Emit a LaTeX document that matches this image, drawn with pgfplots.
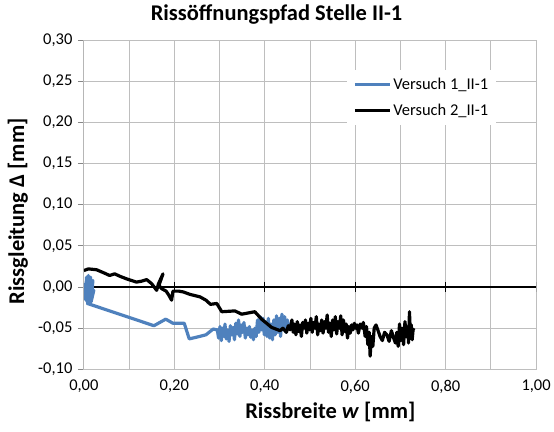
\documentclass[border=0pt]{standalone}
\usepackage{pgfplots}
\pgfplotsset{compat=1.18}
\usepackage{fontspec}
\setmainfont{Carlito}
\definecolor{blueS}{RGB}{79,129,189}
\definecolor{gridc}{RGB}{190,190,190}
\definecolor{axc}{RGB}{134,134,134}
\begin{document}
\begin{tikzpicture}
\begin{axis}[
  scale only axis, width=453pt, height=330pt,
  xmin=0, xmax=1, ymin=-0.1, ymax=0.3,
  xtick={0,0.2,0.4,0.6,0.8,1.0},
  minor xtick={0.1,0.3,0.5,0.7,0.9},
  ytick={-0.1,-0.05,0,0.05,0.1,0.15,0.2,0.25,0.3},
  grid=both,
  major grid style={gridc, line width=0.8pt},
  minor grid style={gridc, line width=0.8pt},
  axis line style={gridc, line width=0.8pt},
  xtick style={draw=none},
  minor tick length=0pt,
  ytick style={axc, line width=0.8pt},
  tick align=outside, major tick length=6pt,
  ytick pos=left,
  /pgf/number format/.cd, assume math mode=true, fixed, fixed zerofill, precision=2, use comma,
  /pgfplots/.cd,
  ticklabel style={font=\fontsize{16.5}{18}\selectfont},
  yticklabel style={xshift=-2pt},
  xticklabel style={yshift=-1pt},
  title={\textbf{Rissöffnungspfad Stelle II-1}},
  title style={font=\fontsize{22.5}{24}\selectfont, at={(axis description cs:0.426,1.06)}, anchor=center},
  xlabel={\textbf{Rissbreite \textit{w} [mm]}},
  xlabel style={font=\fontsize{22.5}{24}\selectfont, at={(axis description cs:0.545,-0.13)}, anchor=center},
  ylabel={\textbf{Rissgleitung Δ [mm]}},
  ylabel style={font=\fontsize{22.5}{24}\selectfont, at={(axis description cs:-0.146,0.48)}, anchor=center},
  legend style={at={(axis cs:0.582,0.264)}, anchor=north west, draw=none, fill=white,
    font=\fontsize{16.5}{18}\selectfont, row sep=9pt, inner xsep=6pt, inner ysep=6pt},
  legend cell align=left,
  legend image code/.code={\draw[#1] (0pt,0pt) -- (35pt,0pt);},
]
\draw[axc, line width=0.8pt] (rel axis cs:0,0) -- (rel axis cs:0,1);
\draw[black, line width=1.6pt] (axis cs:0,0) -- (axis cs:1,0);
\draw[black, line width=1.2pt] (axis cs:0.2,-0.006) -- (axis cs:0.2,0.006);
\draw[black, line width=1.2pt] (axis cs:0.4,-0.006) -- (axis cs:0.4,0.006);
\draw[black, line width=1.2pt] (axis cs:0.6,-0.006) -- (axis cs:0.6,0.006);
\draw[black, line width=1.2pt] (axis cs:0.8,-0.006) -- (axis cs:0.8,0.006);
\draw[black, line width=1.2pt] (axis cs:1.0,-0.006) -- (axis cs:1.0,0.006);
\addplot[blueS, line width=3.2pt, line join=round] coordinates {
(0.002,0.005)(0.004,-0.012)(0.006,0.012)(0.003,-0.015)(0.008,0.010)(0.005,-0.008)(0.010,0.014)(0.007,-0.018)(0.012,0.006)(0.009,-0.010)(0.015,0.012)(0.011,-0.015)(0.018,0.004)(0.014,-0.008)(0.020,0.008)(0.016,-0.018)(0.022,-0.004)(0.008,-0.020)
(0.155,-0.047)(0.181,-0.039)(0.197,-0.044)(0.222,-0.044)(0.233,-0.063)(0.256,-0.060)(0.27,-0.058)(0.286,-0.051)
(0.295,-0.052)(0.298,-0.062)(0.301,-0.048)(0.304,-0.065)(0.307,-0.050)(0.310,-0.060)(0.312,-0.045)(0.315,-0.063)(0.318,-0.052)(0.321,-0.066)(0.324,-0.047)(0.327,-0.058)(0.330,-0.049)(0.333,-0.064)(0.336,-0.044)(0.339,-0.057)(0.342,-0.040)(0.345,-0.060)(0.348,-0.046)(0.351,-0.055)(0.354,-0.043)(0.357,-0.062)(0.360,-0.050)(0.363,-0.058)(0.366,-0.048)(0.369,-0.061)(0.372,-0.052)(0.375,-0.064)(0.378,-0.050)(0.381,-0.060)(0.384,-0.040)(0.387,-0.055)(0.390,-0.036)(0.393,-0.052)(0.396,-0.038)(0.399,-0.058)(0.402,-0.042)(0.405,-0.060)(0.408,-0.038)(0.411,-0.062)(0.414,-0.045)(0.417,-0.064)(0.420,-0.040)(0.423,-0.058)(0.426,-0.035)(0.429,-0.055)(0.432,-0.038)(0.435,-0.060)(0.438,-0.033)(0.441,-0.052)(0.444,-0.036)(0.447,-0.055)(0.450,-0.040)(0.453,-0.050)(0.456,-0.045)(0.459,-0.052)
};
\addlegendentry{Versuch 1\_II-1}
\addplot[black, line width=3.2pt, line join=round] coordinates {
(0.000,0.020)(0.010,0.022)(0.028,0.021)(0.045,0.017)(0.057,0.014)(0.068,0.016)(0.080,0.013)(0.094,0.010)(0.105,0.008)(0.116,0.006)(0.127,0.007)(0.139,0.009)(0.150,0.004)(0.161,-0.004)(0.165,0.004)(0.175,0.016)(0.166,0.002)(0.172,-0.002)(0.182,-0.005)(0.188,-0.010)(0.194,-0.016)(0.197,-0.005)(0.210,-0.005)(0.220,-0.006)(0.235,-0.009)(0.257,-0.012)(0.270,-0.016)(0.280,-0.021)(0.294,-0.020)(0.305,-0.030)(0.334,-0.029)(0.349,-0.033)(0.378,-0.030)(0.393,-0.039)(0.415,-0.049)(0.434,-0.053)(0.440,-0.050)(0.448,-0.055)
(0.452,-0.047)(0.456,-0.052)(0.460,-0.040)(0.463,-0.055)(0.466,-0.045)(0.469,-0.058)(0.472,-0.042)(0.475,-0.054)(0.478,-0.046)(0.481,-0.060)(0.484,-0.043)(0.487,-0.050)(0.490,-0.040)(0.493,-0.056)(0.496,-0.044)(0.499,-0.052)(0.502,-0.038)(0.505,-0.055)(0.508,-0.043)(0.511,-0.050)(0.514,-0.036)(0.517,-0.058)(0.520,-0.045)(0.523,-0.053)(0.526,-0.040)(0.529,-0.056)(0.532,-0.042)(0.535,-0.050)(0.538,-0.034)(0.541,-0.055)(0.544,-0.044)(0.547,-0.060)(0.550,-0.040)(0.553,-0.052)(0.556,-0.036)(0.559,-0.057)(0.562,-0.042)(0.565,-0.050)(0.568,-0.035)(0.571,-0.058)(0.574,-0.040)(0.577,-0.054)(0.580,-0.045)(0.583,-0.062)(0.586,-0.048)(0.589,-0.056)(0.592,-0.046)(0.595,-0.052)(0.598,-0.044)(0.601,-0.050)(0.604,-0.046)(0.607,-0.056)
(0.611,-0.045)(0.615,-0.050)(0.618,-0.043)(0.622,-0.060)(0.625,-0.048)(0.628,-0.070)(0.631,-0.055)(0.633,-0.084)(0.636,-0.060)(0.639,-0.072)(0.642,-0.050)(0.646,-0.046)(0.650,-0.052)(0.655,-0.060)(0.660,-0.065)(0.665,-0.055)(0.670,-0.058)(0.675,-0.066)(0.680,-0.053)(0.685,-0.062)(0.689,-0.068)(0.692,-0.055)(0.695,-0.072)(0.698,-0.045)(0.701,-0.065)(0.704,-0.050)(0.707,-0.070)(0.710,-0.042)(0.713,-0.060)(0.716,-0.048)(0.718,-0.068)(0.720,-0.030)(0.722,-0.058)(0.724,-0.046)(0.726,-0.064)(0.728,-0.052)(0.730,-0.050)
};
\addlegendentry{Versuch 2\_II-1}
\end{axis}
\path (current axis.south west) ++(-84pt,-62pt) rectangle ++(554pt,432pt);
\end{tikzpicture}
\end{document}
